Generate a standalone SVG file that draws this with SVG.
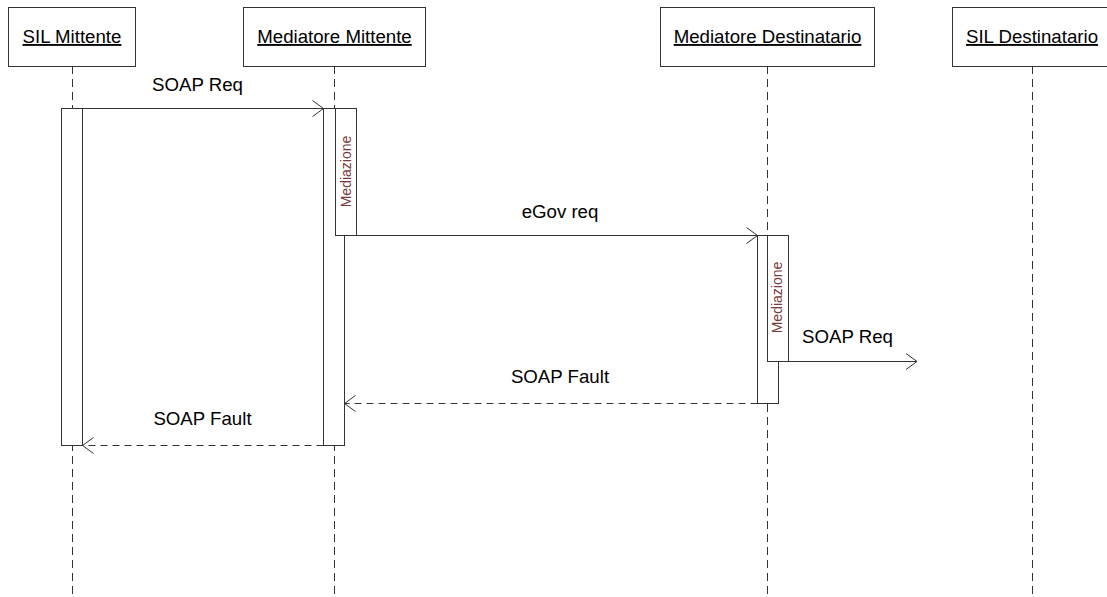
<svg xmlns="http://www.w3.org/2000/svg" width="1107" height="597" viewBox="0 0 1107 597">
<style>
.box{fill:#fff;stroke:#333;stroke-width:1}
.life{stroke:#333;stroke-width:1;stroke-dasharray:8,5;fill:none}
.act{fill:#fff;stroke:#333;stroke-width:1}
.lbl{font-family:"Liberation Sans",Arial,sans-serif;font-size:18.67px;fill:#000;text-anchor:middle}
.head{text-decoration:underline}
.med{font-family:"Liberation Sans",Arial,sans-serif;font-size:14px;fill:#7b3a3a;text-anchor:middle}
.msg{stroke:#333;stroke-width:1;fill:none}
.dash{stroke-dasharray:7,5}
</style>
<defs>
<marker id="open" markerUnits="userSpaceOnUse" viewBox="-12 -9 13 18" refX="0" refY="0" markerWidth="13" markerHeight="18" orient="auto">
<path d="M -11 -8 L 0 0 L -11 8" fill="none" stroke="#333" stroke-width="1"/>
</marker>
</defs>
<g id="lifelines">
<line class="life" x1="72.5" y1="66" x2="72.5" y2="597"/>
<line class="life" x1="334.5" y1="66" x2="334.5" y2="597"/>
<line class="life" x1="767.5" y1="66" x2="767.5" y2="597"/>
<line class="life" x1="1032.5" y1="66" x2="1032.5" y2="597"/>
</g>
<g id="sil-mittente">
<rect class="box" x="8.5" y="7.5" width="127" height="59"/>
<text class="lbl head" x="72" y="43">SIL Mittente</text>
</g>
<g id="mediatore-mittente">
<rect class="box" x="243.5" y="7.5" width="182" height="59"/>
<text class="lbl head" x="334.5" y="43">Mediatore Mittente</text>
</g>
<g id="mediatore-destinatario">
<rect class="box" x="660.5" y="7.5" width="214" height="59"/>
<text class="lbl head" x="767.5" y="43">Mediatore Destinatario</text>
</g>
<g id="sil-destinatario">
<rect class="box" x="952.5" y="7.5" width="160" height="59"/>
<text class="lbl head" x="1032" y="43">SIL Destinatario</text>
</g>
<g id="activation-sil-mittente">
<rect class="act" x="61.5" y="108.5" width="21" height="337"/>
</g>
<g id="activation-mediatore-mittente">
<rect class="act" x="323.5" y="108.5" width="21" height="337"/>
</g>
<g id="mediazione-1">
<rect class="act" x="335.5" y="108.5" width="21" height="127"/>
<text class="med" transform="translate(351 171.5) rotate(-90)" x="0" y="0">Mediazione</text>
</g>
<g id="activation-mediatore-destinatario">
<rect class="act" x="757.5" y="235.5" width="21" height="168"/>
</g>
<g id="mediazione-2">
<rect class="act" x="767.5" y="235.5" width="21" height="126"/>
<text class="med" transform="translate(782 297.5) rotate(-90)" x="0" y="0">Mediazione</text>
</g>
<g id="connectors">
<line class="msg" x1="82.5" y1="108.5" x2="323.5" y2="108.5" marker-end="url(#open)"/>
<text class="lbl" x="197.5" y="91">SOAP Req</text>
<line class="msg" x1="356.5" y1="235.5" x2="757.5" y2="235.5" marker-end="url(#open)"/>
<text class="lbl" x="560" y="218">eGov req</text>
<line class="msg" x1="788.5" y1="361.5" x2="917" y2="361.5" marker-end="url(#open)"/>
<text class="lbl" x="847.5" y="343">SOAP Req</text>
<line class="msg dash" x1="757.5" y1="403.5" x2="344.5" y2="403.5" marker-end="url(#open)"/>
<text class="lbl" x="560" y="383">SOAP Fault</text>
<line class="msg dash" x1="323.5" y1="445.5" x2="82.5" y2="445.5" marker-end="url(#open)"/>
<text class="lbl" x="202.5" y="425">SOAP Fault</text>
</g>
</svg>
